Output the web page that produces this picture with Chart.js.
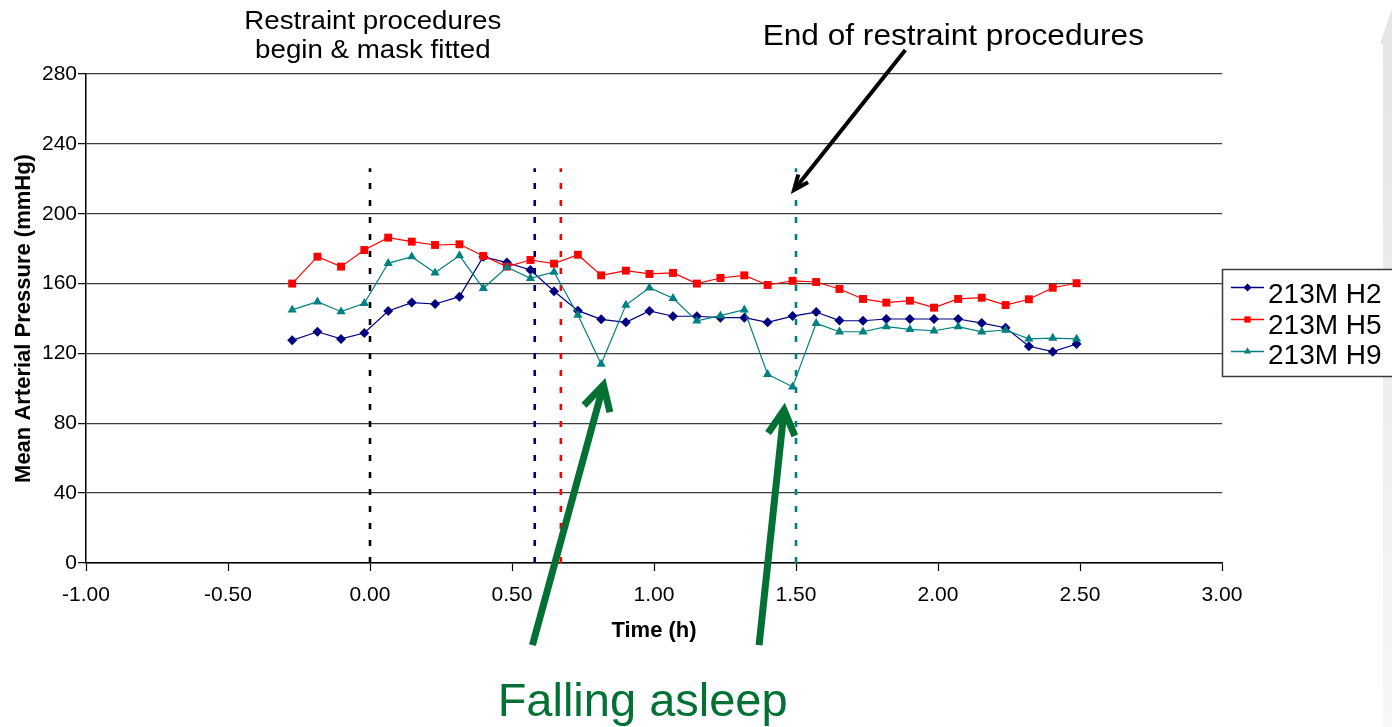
<!DOCTYPE html>
<html>
<head>
<meta charset="utf-8">
<script src="https://cdn.jsdelivr.net/npm/chart.js@4.4.1/dist/chart.umd.min.js"></script>
<style>
  html, body { margin: 0; padding: 0; background: #fff; overflow: hidden; }
  #wrap { position: relative; width: 1392px; height: 727px; }
</style>
</head>
<body>
<div id="wrap"><canvas id="c" width="1392" height="727"></canvas></div>
<script>
// Sampling times (hours relative to start of restraint procedures)
const timeH = [-0.274, -0.185, -0.102, -0.020, 0.064, 0.147, 0.229, 0.315, 0.399, 0.482,
               0.565, 0.648, 0.732, 0.814, 0.901, 0.984, 1.067, 1.151, 1.234, 1.318,
               1.400, 1.488, 1.571, 1.653, 1.736, 1.818, 1.901, 1.986, 2.071, 2.154,
               2.238, 2.320, 2.404, 2.488];

// Mean arterial pressure (mmHg) per animal
const mapH2 = [127.5, 132.4, 128.3, 131.7, 144.3, 149.1, 148.3, 152.5, 175.4, 172.0,
               167.8, 155.6, 144.5, 139.5, 137.8, 144.3, 141.3, 141.3, 140.5, 140.5,
               137.8, 141.4, 143.7, 138.8, 138.7, 139.7, 139.7, 139.7, 139.7, 137.4,
               134.7, 124.1, 121.0, 125.4];
const mapH5 = [160.0, 175.4, 169.7, 179.2, 186.3, 184.0, 182.1, 182.5, 175.8, 169.7,
               173.5, 171.4, 176.5, 164.7, 167.4, 165.5, 166.1, 160.0, 163.2, 164.7,
               159.2, 161.6, 160.9, 156.9, 151.2, 149.1, 150.2, 146.2, 151.2, 151.9,
               147.7, 151.0, 157.6, 160.2];
const mapH9 = [144.9, 149.6, 143.9, 148.7, 171.6, 175.4, 166.2, 176.0, 157.3, 169.3,
               163.0, 166.6, 142.0, 113.9, 147.7, 157.6, 151.6, 138.6, 141.6, 145.0,
               108.0, 100.9, 137.2, 132.4, 132.4, 135.3, 133.8, 133.0, 135.3, 132.4,
               133.4, 128.3, 128.8, 128.3];

const seriesNames = ['213M H2', '213M H5', '213M H9'];

// Event markers: time of event (h) and the colour of the animal it belongs to
const eventTimes  = [0.0, 0.58, 0.672, 1.50];
const eventColors = ['#000000', '#000080', '#ff0000', '#008080'];
const eventTop = 226;

// Axis ranges and ticks
const xMin = -1, xMax = 3, xStep = 0.5;
const yMin = 0, yMax = 280, yStep = 40;

const FONT = "'Liberation Sans', Arial, Helvetica, sans-serif";

function pts(values) {
  return values.map((v, i) => ({ x: timeH[i], y: v }));
}

const seriesStyles = [
  { color: '#000080', pointStyle: 'rectRot', radius: 5.0 },
  { color: '#ff0000', pointStyle: 'rect', radius: 5.6 },
  { color: '#008080', pointStyle: 'triangle', radius: 5.3 }
];
const seriesData = [mapH2, mapH5, mapH9];

const datasets = [];
eventTimes.forEach((t, i) => {
  datasets.push({
    label: 'event' + i,
    data: [{ x: t, y: yMin }, { x: t, y: eventTop }],
    borderColor: eventColors[i],
    borderWidth: 2.6,
    borderDash: [6, 11],
    pointRadius: 0,
    fill: false,
    order: 10
  });
});
seriesData.forEach((vals, i) => {
  const s = seriesStyles[i];
  datasets.push({
    label: seriesNames[i],
    data: pts(vals),
    borderColor: s.color,
    backgroundColor: s.color,
    borderWidth: 1.2,
    pointStyle: s.pointStyle,
    pointRadius: s.radius,
    pointBorderWidth: 0,
    pointBackgroundColor: s.color,
    tension: 0,
    fill: false,
    order: 3 - i
  });
});

// Annotation anchors in data units (time h, pressure mmHg)
const noteBegin = { t: 0.01, lines: ['Restraint procedures', 'begin & mask fitted'], v: [306, 289] };
const noteEnd = { t: 2.054, text: 'End of restraint procedures', v: 296.5 };
const endArrow = { from: [1.885, 293.7], to: [1.493, 213.6] };
const sleepArrows = [
  { from: [0.572, -47], to: [0.822, 101.9] },
  { from: [1.370, -47], to: [1.458, 87.6] }
];
const sleepNote = { t: 0.96, v: -87.5, text: 'Falling asleep' };

function drawText(ctx, text, x, y, size, color, sx, weight) {
  ctx.save();
  ctx.font = (weight || 'normal') + ' ' + size + 'px ' + FONT;
  ctx.fillStyle = color;
  ctx.textAlign = 'center';
  ctx.textBaseline = 'alphabetic';
  ctx.translate(x, y);
  ctx.scale(sx || 1, 1);
  ctx.fillText(text, 0, 0);
  ctx.restore();
}

function drawArrow(ctx, x1, y1, x2, y2, width, color, headLen, headAng) {
  const a = Math.atan2(y2 - y1, x2 - x1);
  ctx.save();
  ctx.strokeStyle = color;
  ctx.lineWidth = width;
  ctx.lineCap = 'butt';
  ctx.lineJoin = 'miter';
  ctx.beginPath();
  ctx.moveTo(x1, y1);
  ctx.lineTo(x2 - Math.cos(a) * width * 0.6, y2 - Math.sin(a) * width * 0.6);
  ctx.stroke();
  ctx.beginPath();
  ctx.moveTo(x2 - headLen * Math.cos(a - headAng), y2 - headLen * Math.sin(a - headAng));
  ctx.lineTo(x2, y2);
  ctx.lineTo(x2 - headLen * Math.cos(a + headAng), y2 - headLen * Math.sin(a + headAng));
  ctx.stroke();
  ctx.restore();
}

function drawMarker(ctx, style, x, y, r, color) {
  ctx.save();
  ctx.fillStyle = color;
  ctx.beginPath();
  if (style === 'rectRot') {
    ctx.moveTo(x, y - r); ctx.lineTo(x + r, y); ctx.lineTo(x, y + r); ctx.lineTo(x - r, y);
  } else if (style === 'rect') {
    const s = r * Math.SQRT1_2;
    ctx.rect(x - s, y - s, 2 * s, 2 * s);
  } else {
    ctx.moveTo(x, y - r);
    ctx.lineTo(x + r * Math.cos(Math.PI / 6), y + r / 2);
    ctx.lineTo(x - r * Math.cos(Math.PI / 6), y + r / 2);
  }
  ctx.closePath();
  ctx.fill();
  ctx.restore();
}

const decorations = {
  id: 'decorations',
  beforeDraw(chart) {
    const ctx = chart.ctx;
    ctx.save();
    ctx.fillStyle = '#ffffff';
    ctx.fillRect(0, 0, chart.width, chart.height);
    // pale block arrow along the right margin
    const g = ctx.createLinearGradient(0, 0, 0, chart.height);
    g.addColorStop(0, '#e4e4e4');
    g.addColorStop(0.5, '#ededed');
    g.addColorStop(1, '#f7f7f7');
    ctx.fillStyle = g;
    ctx.beginPath();
    ctx.moveTo(1380, 44);
    ctx.lineTo(1383, 44);
    ctx.lineTo(1383, chart.height);
    ctx.lineTo(chart.width, chart.height);
    ctx.lineTo(chart.width, 9);
    ctx.closePath();
    ctx.fill();
    ctx.restore();
  },
  afterDraw(chart) {
    const ctx = chart.ctx;
    const xs = chart.scales.x, ys = chart.scales.y;
    const px = t => xs.getPixelForValue(t);
    const py = v => ys.getPixelForValue(v);

    // event captions
    drawText(ctx, noteBegin.lines[0], px(noteBegin.t), py(noteBegin.v[0]), 26, '#000', 1.065);
    drawText(ctx, noteBegin.lines[1], px(noteBegin.t), py(noteBegin.v[1]), 26, '#000', 1.065);
    drawText(ctx, noteEnd.text, px(noteEnd.t), py(noteEnd.v), 29, '#000', 1.09);
    drawArrow(ctx, px(endArrow.from[0]), py(endArrow.from[1]), px(endArrow.to[0]), py(endArrow.to[1]),
              4, '#000', 16, 0.4);

    sleepArrows.forEach(a => {
      drawArrow(ctx, px(a.from[0]), py(a.from[1]), px(a.to[0]), py(a.to[1]), 7, '#037034', 28, 0.5);
    });
    drawText(ctx, sleepNote.text, px(sleepNote.t), py(sleepNote.v), 47, '#037034', 1);

    // legend
    const bx = 1222.5, by = 269.5, bw = 180, bh = 107;
    ctx.save();
    ctx.fillStyle = '#ffffff';
    ctx.fillRect(bx, by, bw, bh);
    ctx.strokeStyle = '#3a3a3a';
    ctx.lineWidth = 1.5;
    ctx.strokeRect(bx, by, bw, bh);
    const rowLine = [287.5, 319.5, 351.5];
    const rowBase = [303, 334, 364];
    seriesNames.forEach((name, i) => {
      const s = seriesStyles[i];
      ctx.strokeStyle = s.color;
      ctx.lineWidth = 1.3;
      ctx.beginPath();
      ctx.moveTo(1231, rowLine[i]);
      ctx.lineTo(1264, rowLine[i]);
      ctx.stroke();
      drawMarker(ctx, s.pointStyle, 1247.5, rowLine[i], s.radius * 0.8, s.color);
      ctx.fillStyle = '#000';
      ctx.font = '28px ' + FONT;
      ctx.textAlign = 'left';
      ctx.textBaseline = 'alphabetic';
      ctx.fillText(name, 1268, rowBase[i]);
    });
    ctx.restore();
  }
};

new Chart(document.getElementById('c'), {
  type: 'line',
  data: { datasets },
  plugins: [decorations],
  options: {
    responsive: false,
    animation: false,
    devicePixelRatio: 1,
    layout: { padding: { left: 0, right: 170, top: 74, bottom: 0 } },
    plugins: { legend: { display: false }, tooltip: { enabled: false } },
    elements: { line: { tension: 0 } },
    scales: {
      x: {
        type: 'linear',
        min: xMin, max: xMax,
        ticks: {
          stepSize: xStep,
          autoSkip: false,
          maxRotation: 0,
          padding: 12,
          color: '#000',
          font: { family: FONT, size: 21 },
          callback: v => Number(v).toFixed(2)
        },
        grid: { drawOnChartArea: false, drawTicks: true, tickLength: 8, tickColor: '#000', tickWidth: 1.2 },
        border: { color: '#000', width: 1.5 },
        title: {
          display: true, text: 'Time (h)', color: '#000',
          font: { family: FONT, size: 22, weight: 'bold' },
          padding: { top: 0, bottom: 83 }
        },
        afterFit(s) { s.height = 164; }
      },
      y: {
        min: yMin, max: yMax,
        ticks: {
          stepSize: yStep,
          padding: 1,
          color: '#000',
          font: { family: FONT, size: 21 }
        },
        grid: { color: '#3c3c3c', lineWidth: 1.3, tickLength: 8, tickColor: '#000', tickWidth: 1.2 },
        border: { color: '#000', width: 1.5 },
        title: {
          display: true, text: 'Mean Arterial Pressure (mmHg)', color: '#000',
          font: { family: FONT, size: 22, weight: 'bold' },
          padding: { top: 11, bottom: 0 }
        },
        afterFit(s) { s.width = 86; }
      }
    }
  }
});
</script>
</body>
</html>
